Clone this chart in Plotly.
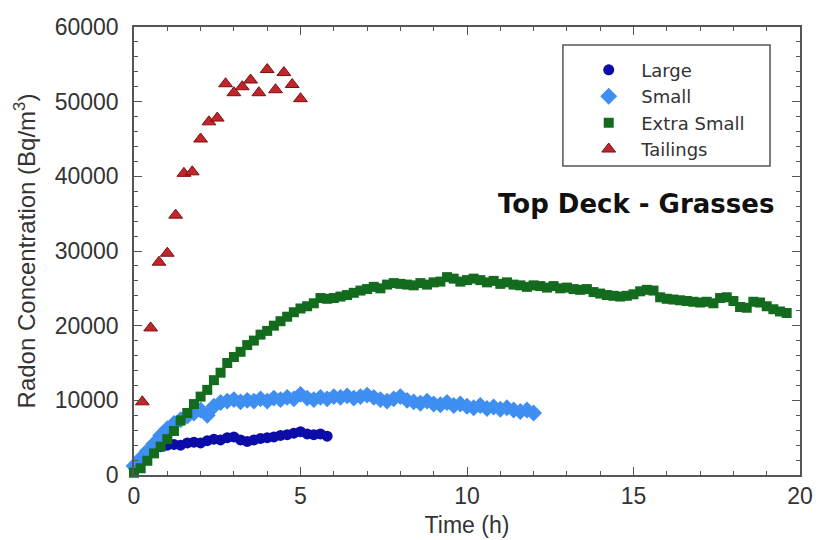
import plotly.graph_objects as go

T_STEP = 0.2  # hours between readings (12 min)

large_vals = [1000, 1800, 2600, 3300, 3800, 4000, 4100, 4000, 4300, 4400,
              4300, 4600, 4800, 4700, 5000, 5100, 4700, 4500, 4700, 4900,
              5000, 5100, 5300, 5400, 5600, 5800, 5500, 5400, 5500, 5200]

small_vals = [1200, 2200, 3200, 4200, 5300, 6200, 6900, 7400, 7900, 8300,
              8700, 8000, 9200, 9700, 9900, 10100, 9800, 10000, 9900, 10200,
              9900, 10300, 10100, 10400, 10200, 10800, 10300, 10100, 10400, 10200,
              10500, 10400, 10600, 10300, 10500, 10700, 10400, 10100, 9900, 10200,
              10500, 10000, 9800, 9600, 9900, 9500, 9400, 9700, 9300, 9500,
              9200, 9000, 9300, 8900, 9100, 8800, 9000, 8700, 8500, 8700, 8300]

xsmall_vals = [300, 900, 1900, 2900, 3800, 4800, 5900, 7300, 8300, 9500,
               10500, 11400, 12700, 13700, 15000, 15800, 16500, 17400, 18000, 18800,
               19300, 20000, 20600, 21200, 21800, 22300, 22600, 23000, 23700, 23600,
               23700, 23900, 24100, 24400, 24700, 24900, 25200, 25000, 25500, 25700,
               25600, 25500, 25400, 25700, 25500, 25800, 25900, 26500, 26300, 25900,
               26100, 26300, 26100, 25800, 26000, 25600, 25800, 25500, 25400, 25200,
               25400, 25300, 25100, 25300, 25000, 25100, 24900, 24800, 24900, 24500,
               24300, 24100, 24000, 23900, 24000, 24200, 24600, 24800, 24700, 23800,
               23600, 23500, 23400, 23300, 23200, 23100, 23200, 23000, 23700, 23800,
               23300, 22500, 22400, 23200, 23100, 22600, 22200, 21900, 21700]

tail_t = [0.25, 0.5, 0.75, 1.0, 1.25, 1.5, 1.75, 2.0, 2.25, 2.5,
          2.75, 3.0, 3.25, 3.5, 3.75, 4.0, 4.25, 4.5, 4.75, 5.0]
tail_vals = [9800, 19700, 28500, 29700, 34800, 40400, 40600, 45000, 47300, 47800,
             52400, 51200, 52000, 52900, 51200, 54300, 51600, 53900, 52300, 50400]

def times(vals):
    return [round(i * T_STEP, 2) for i in range(len(vals))]

FONT = "Liberation Sans, Arial, sans-serif"
LFONT = "DejaVu Sans, Liberation Sans, sans-serif"
AX = "#555"
TXT = "#333"

fig = go.Figure()
fig.add_trace(go.Scatter(x=times(large_vals), y=large_vals, mode="markers", name="Large",
                         marker=dict(symbol="circle", size=11, color="#0c0ca8"), cliponaxis=False))
fig.add_trace(go.Scatter(x=times(small_vals), y=small_vals, mode="markers", name="Small",
                         marker=dict(symbol="diamond", size=13, color="#3f8ef2"), cliponaxis=False))
fig.add_trace(go.Scatter(x=times(xsmall_vals), y=xsmall_vals, mode="markers", name="Extra Small",
                         marker=dict(symbol="square", size=10, color="#136b1e"), cliponaxis=False))
fig.add_trace(go.Scatter(x=tail_t, y=tail_vals, mode="markers", name="Tailings",
                         marker=dict(symbol="triangle-up", size=12, color="#c0262a",
                                     line=dict(color="#7a1010", width=1)), cliponaxis=False))

axis_common = dict(showline=True, linecolor=AX, linewidth=1.5, mirror="ticks",
                   ticks="inside", tickcolor=AX, showgrid=False, zeroline=False,
                   automargin=False,
                   tickfont=dict(family=FONT, size=23, color=TXT))

fig.update_xaxes(range=[0, 20], dtick=5, ticklen=8,
                 minor=dict(ticks="inside", dtick=1, ticklen=4, tickcolor=AX),
                 title=dict(text="Time (h)", font=dict(family=FONT, size=23, color=TXT), standoff=9),
                 **axis_common)
fig.update_yaxes(range=[0, 60000], dtick=10000, ticklen=8, tickformat="d",
                 ticklabelstandoff=9,
                 minor=dict(ticks="inside", dtick=2000, ticklen=4, tickcolor=AX),
                 title=dict(text="Radon Concentration (Bq/m<sup>3</sup>)",
                            font=dict(family=FONT, size=24, color=TXT), standoff=12),
                 **axis_common)

fig.add_annotation(text="<b>Top Deck - Grasses</b>", xref="paper", yref="paper",
                   x=0.754, y=0.605, xanchor="center", yanchor="middle", showarrow=False,
                   font=dict(family=LFONT, size=26, color="#111"))

# legend frame
fig.add_shape(type="rect", xref="paper", yref="paper",
              x0=0.644, x1=0.955, y0=0.690, y1=0.960,
              line=dict(color="#555", width=1.5), fillcolor="white", layer="below")

fig.update_layout(
    width=816, height=540,
    margin=dict(l=134, r=16, t=27, b=65),
    paper_bgcolor="white", plot_bgcolor="white",
    font=dict(family=FONT, color=TXT),
    legend=dict(x=0.664, y=0.945, xanchor="left", yanchor="top",
                borderwidth=0, bgcolor="rgba(0,0,0,0)",
                font=dict(family=LFONT, size=18, color=TXT),
                itemwidth=55, tracegroupgap=0),
)

fig.write_html("out.html")
